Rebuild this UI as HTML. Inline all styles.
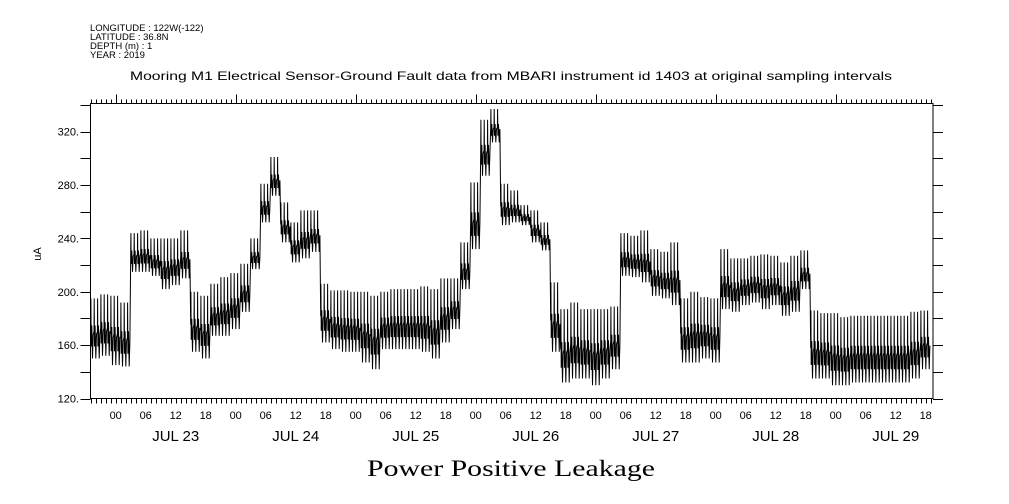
<!DOCTYPE html>
<html><head><meta charset="utf-8"><style>
html,body{margin:0;padding:0;background:#fff;}
svg{display:block;font-family:"Liberation Sans",sans-serif;}
</style></head><body>
<svg id="chart" width="1009" height="504" viewBox="0 0 1009 504" xmlns="http://www.w3.org/2000/svg">
<g font-size="9.5" fill="#000">
<text x="90" y="31">LONGITUDE : 122W(-122)</text>
<text x="90" y="40">LATITUDE : 36.8N</text>
<text x="90" y="49">DEPTH (m) : 1</text>
<text x="90" y="58">YEAR : 2019</text>
</g>
<text x="130" y="80" font-size="12" textLength="762" lengthAdjust="spacingAndGlyphs">Mooring M1 Electrical Sensor-Ground Fault data from MBARI instrument id 1403 at original sampling intervals</text>
<text x="511" y="476" text-anchor="middle" font-size="23" font-family="Liberation Serif, serif" textLength="288" lengthAdjust="spacingAndGlyphs">Power Positive Leakage</text>
<text x="41" y="254" text-anchor="middle" font-size="11" transform="rotate(-90 41 254)">uA</text>
<g id="axes"></g>
<g id="series"></g>
</svg>
<script>
// 2-hour chunks starting Jul 22 19:00 : low / high envelope (uA)
const chunkLow = [150,152,145,144,215,215,212,202,205,210,155,150,167,167,172,185,217,252,272,237,222,225,230,162,157,155,155,147,142,157,157,157,157,155,150,162,172,202,232,287,312,250,252,250,237,231,155,132,135,135,130,135,142,212,211,207,197,195,190,147,147,150,147,187,185,190,192,187,190,182,185,202,135,135,130,130,132,132,132,132,132,132,135,142];
const chunkHigh = [195,198,197,192,244,246,240,240,240,246,200,197,206,211,214,221,240,281,301,267,252,261,261,206,201,201,200,200,197,200,202,202,202,204,202,210,210,237,282,329,337,281,276,265,261,252,207,187,192,187,187,187,189,244,242,246,232,230,237,195,200,196,195,232,225,225,227,228,227,222,227,231,186,184,184,181,182,182,182,182,182,182,185,186];
const yTicks = [120,160,200,240,280,320];
const hourLabels = ["00","06","12","18"];
const dayLabels = ["JUL 23","JUL 24","JUL 25","JUL 26","JUL 27","JUL 28","JUL 29"];

const L=90.5,R=933,T=103.5,B=398.5;
const x0=115.7, pxPerHour=5.0; // x0 = Jul 23 00:00
const xs=h=>x0+h*pxPerHour;
const ys=v=>B-(v-120)*(B-131.7)/200;
const NS="http://www.w3.org/2000/svg";
const ax=document.getElementById('axes');
function mk(tag,attrs,parent){const e=document.createElementNS(NS,tag);for(const k in attrs)e.setAttribute(k,attrs[k]);(parent||ax).appendChild(e);return e;}
let frame=mk('rect',{x:L,y:T,width:R-L,height:B-T,fill:'none',stroke:'#000','stroke-width':1});


let d='';
for(let h=-5;h<=163;h++){
  const x=Math.round(xs(h))+0.5; if(x<L-0.1||x>R+0.1)continue;
  const md=((h%24)+24)%24;
  d+=`M${x} ${B}V${B+5}`;
  d+=`M${x} ${T}V${md===0?T-9:T-4}`;
}
for(let v=120;v<=340;v+=20){const y=Math.round(ys(v))+0.5;if(y<T)continue;d+=`M${L-10} ${y}H${L}M${R} ${y}H${R+10}`;}
let tk=mk('path',{d:d,stroke:'#000','stroke-width':1,fill:'none'});


yTicks.forEach(v=>{
  const t=mk('text',{x:79,y:ys(v)+4,'text-anchor':'end','font-size':11});t.textContent=v+'.';
  
  
});
for(let h=0;h<=162;h+=6){
  const t=mk('text',{x:xs(h),y:419,'text-anchor':'middle','font-size':11});t.textContent=hourLabels[(h/6)%4];
  
  
}
dayLabels.forEach((s,i)=>{
  const t=mk('text',{x:xs(i*24+12),y:441,'text-anchor':'middle','font-size':15});t.textContent=s;
  
  
});
// series: spikes between envelope low and high, jagged lower band
const shape=[[0,0.45],[0.04,1],[0.1,0.2],[0.22,0.55],[0.36,0],[0.5,0.4]];
let pts=[];
chunkLow.forEach((lo,i)=>{
  const hi=chunkHigh[i];
  const h0=-5+i*2;
  for(let k=0;k<3;k++){
    const s=h0+k*0.667;
    shape.forEach(p=>pts.push([xs(s+p[0]),ys(lo+(hi-lo)*p[1])]));
  }
});
pts=pts.filter(p=>p[0]<=R-1.5);
const line=mk('path',{d:'M'+pts.map(p=>p[0].toFixed(1)+' '+p[1].toFixed(1)).join('L'),fill:'none',stroke:'#000','stroke-width':1},document.getElementById('series'));


</script>
</body></html>
